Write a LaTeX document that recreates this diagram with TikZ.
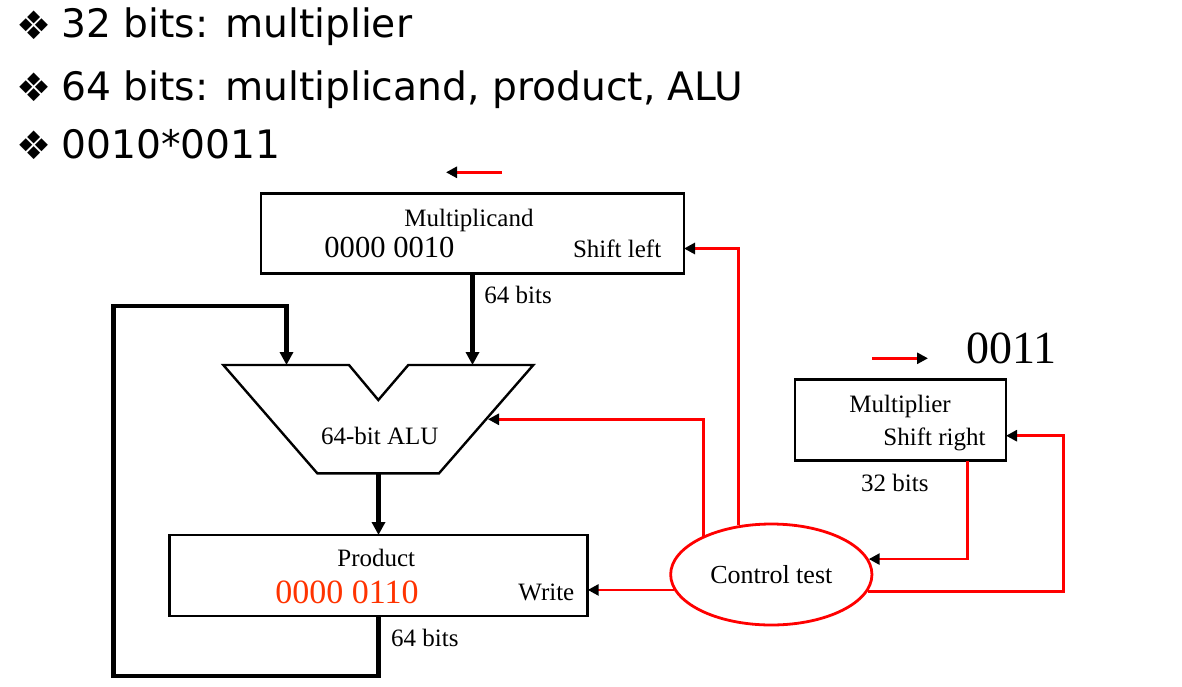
\documentclass[tikz,border=0pt]{standalone}
\usepackage{fontspec}
\setmainfont{Liberation Serif}
\newfontfamily\topfont{DejaVu Sans}
\usetikzlibrary{arrows.meta,shapes.geometric}
\definecolor{numred}{RGB}{255,51,0}
\begin{document}
\begin{tikzpicture}[x=0.5pt,y=-0.5pt,
  box/.style={draw, line width=1.35pt, inner sep=0pt, outer sep=0pt, rectangle},
  lbl/.style={anchor=base west, inner sep=0pt, font=\fontsize{12.5}{14}\selectfont},
  bus/.style={line width=2.2pt, -{Triangle[length=6.5pt,width=6.5pt]}},
  busline/.style={line width=2.2pt},
  ctl/.style={red, line width=1.4pt, -{Triangle[length=5.5pt,width=5.5pt,color=black]}},
  alushape/.style={draw, line width=1.2pt, line join=miter},
  toptxt/.style={anchor=base west, inner sep=0pt, font=\topfont\fontsize{19.6}{22}\selectfont},
  bul/.style={anchor=west, inner sep=0pt, font=\topfont\fontsize{19.6}{22}\selectfont}]
\useasboundingbox (0,0) rectangle (1182,686);

% bullet list
\node[bul] (b1) at (16,25) {❖};
\node[toptxt] (t1) at (61,37.3) {32 bits: multiplier};
\node[bul] (b2) at (16,87) {❖};
\node[toptxt] (t2) at (61,100) {64 bits: multiplicand, product, ALU};
\node[bul] (b3) at (16,145) {❖};
\node[toptxt] (t3) at (61,158.3) {0010*0011};

% Multiplicand register
\node[box, minimum width=211.5pt, minimum height=40pt] (mcand) at (472.5,233.5) {};
\node[lbl] (mcandT) at (404,226) {Multiplicand};
\node[lbl, font=\fontsize{15.3}{17}\selectfont] (mcandV) at (324,257) {0000 0010};
\node[lbl] (mcandS) at (572.6,257) {Shift left};
\coordinate (slA) at (502,172.3);
\coordinate (slB) at (446,172.3);
\draw[ctl] (slA) -- (slB);

% ALU
\coordinate (aluTL) at (223.3,365);
\coordinate (aluN1) at (349,365);
\coordinate (aluN2) at (378.3,400);
\coordinate (aluN3) at (408.3,365);
\coordinate (aluTR) at (533.3,365);
\coordinate (aluBR) at (439,473.3);
\coordinate (aluBL) at (317.3,473.3);
\coordinate (aluB) at (378.5,473.3);
\coordinate (aluR) at (488,419.3);
\draw[alushape] (aluTL) -- (aluN1) -- (aluN2) -- (aluN3) -- (aluTR) -- (aluBR) -- (aluBL) -- cycle;
\node[lbl] (aluT) at (320.7,444) {64-bit ALU};

% Product register
\node[box, minimum width=209.2pt, minimum height=40.5pt] (prod) at (378.5,575.5) {};
\node[lbl] (prodT) at (337,566.7) {Product};
\node[lbl, font=\fontsize{17}{19}\selectfont, text=numred] (prodV) at (275,603) {0000 0110};
\node[lbl] (prodW) at (518,600) {Write};
\node[lbl] (bits64b) at (390.7,646.7) {64 bits};

% Multiplier register
\node[box, minimum width=105.5pt, minimum height=40.7pt] (mult) at (900.5,420) {};
\node[lbl] (multT) at (849,412.7) {Multiplier};
\node[lbl] (multS) at (883,445) {Shift right};
\node[lbl] (bits32) at (860.8,491.7) {32 bits};
\node[lbl, font=\fontsize{23}{25}\selectfont] (multV) at (966,363.3) {0011};
\coordinate (srA) at (872,358.3);
\coordinate (srB) at (928,358.3);
\draw[ctl] (srA) -- (srB);

% Control
\node[ellipse, draw=red, line width=1.4pt, minimum width=100.65pt, minimum height=50.5pt, inner sep=0pt,
      font=\fontsize{13}{15}\selectfont] (ctrl) at (771.3,574.5) {Control test};

% datapath
\draw[bus] (mcand.south) -- (mcand.south |- aluTL);
\node[lbl] (bits64a) at (484,303) {64 bits};
\draw[bus] (aluB) -- (prod.north);
\coordinate (lpBR) at (378.5,676);
\coordinate (lpBL) at (113.5,676);
\coordinate (lpTL) at (113.5,306);
\coordinate (lpTR) at (286.5,306);
\draw[bus] (prod.south) -- (lpBR) -- (lpBL) -- (lpTL) -- (lpTR) -- (lpTR |- aluTL);

% control lines
\draw[ctl] (ctrl.150.6) |- (aluR);
\draw[ctl] (ctrl.124.9) |- ([yshift=-7.5pt]mcand.east);
\draw[ctl] (ctrl.189.2) -- (ctrl.189.2 -| prod.east);
\draw[ctl] ([xshift=33.65pt]mult.south) |- (ctrl.9.84);
\coordinate (rloop) at (1063.6,435.7);
\draw[ctl] (ctrl.350.8) -| (rloop) -- (rloop -| mult.east);
\end{tikzpicture}
\end{document}
